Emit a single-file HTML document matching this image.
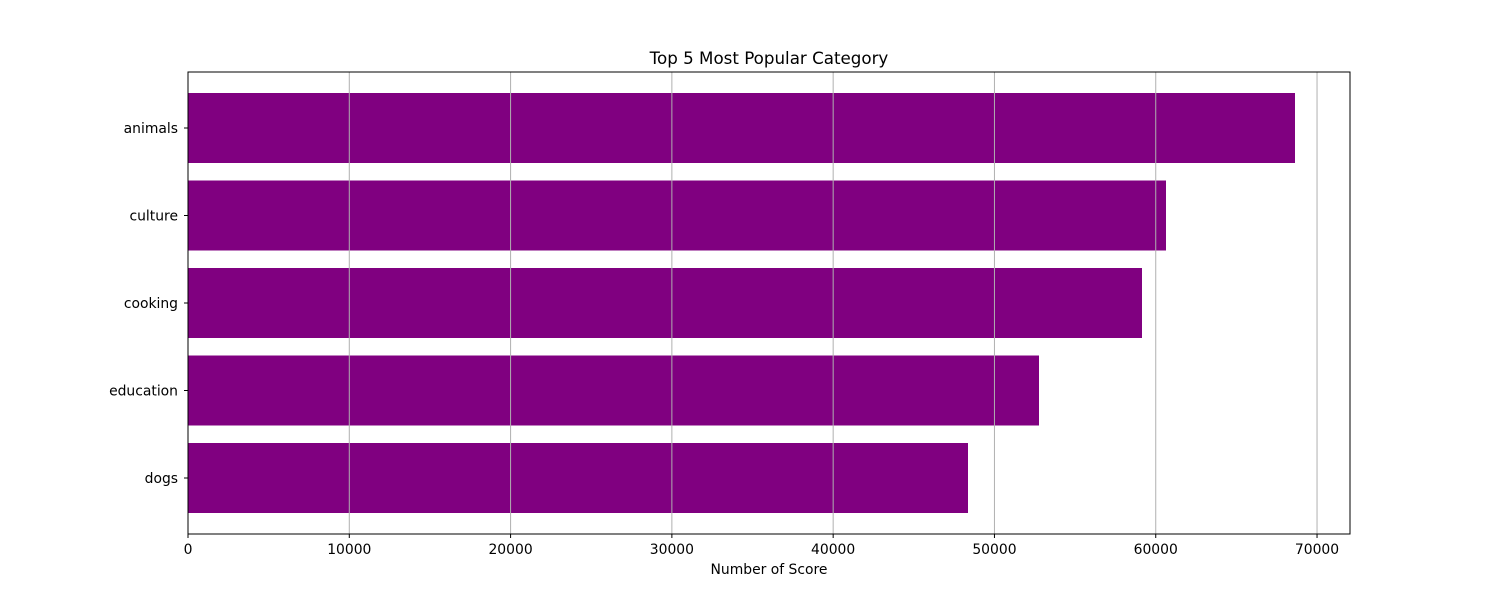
<!DOCTYPE html>
<html><head><meta charset="utf-8"><style>
body{margin:0;background:#fff;}
svg text{font-family:"DejaVu Sans","Liberation Sans",sans-serif;}
</style></head><body>
<svg width="1500" height="600">
<g id="bars"></g>
<g id="grid"></g>
<g id="axes"></g>
<text x="769" y="64" text-anchor="middle" font-size="16.7">Top 5 Most Popular Category</text>
<text x="769" y="574" text-anchor="middle" font-size="13.9">Number of Score</text>
</svg>
<script>
const categories=["animals","culture","cooking","education","dogs"];
const values=[68634,60636,59148,52762,48360];
const xTicks=[0,10000,20000,30000,40000,50000,60000,70000];
const L=188,R=1350,T=72,B=534,XMAX=72044;
const NS="http://www.w3.org/2000/svg";
const x=v=>L+(v/XMAX)*(R-L);
const yMin=-0.64,yMax=4.64;
const y=i=>T+((i-yMin)/(yMax-yMin))*(B-T);
const unit=(B-T)/(yMax-yMin);
function mk(t,a,p){const e=document.createElementNS(NS,t);for(const k in a)e.setAttribute(k,a[k]);p.appendChild(e);return e;}
const bars=document.getElementById('bars'),grid=document.getElementById('grid'),axes=document.getElementById('axes');
categories.forEach((c,i)=>{
 const r=mk('rect',{x:L,y:y(i)-0.4*unit,width:x(values[i])-L,height:0.8*unit,fill:'#800080'},bars);
 
 
 mk('line',{x1:L-4,x2:L,y1:y(i),y2:y(i),stroke:'#000'},axes);
 const t=mk('text',{x:L-10,y:y(i)+5,'text-anchor':'end','font-size':13.9},axes);
 t.textContent=c;
 
 
});
xTicks.forEach(v=>{
 const g=mk('line',{x1:x(v),x2:x(v),y1:T,y2:B,stroke:'#b0b0b0','stroke-width':1},grid);
 
 
 mk('line',{x1:x(v),x2:x(v),y1:B,y2:B+4,stroke:'#000'},axes);
 const t=mk('text',{x:x(v),y:B+20,'text-anchor':'middle','font-size':13.9},axes);
 t.textContent=v;
 
 
});
const f=mk('rect',{x:L,y:T,width:R-L,height:B-T,fill:'none',stroke:'#000','stroke-width':1},axes);


</script>
</body></html>
